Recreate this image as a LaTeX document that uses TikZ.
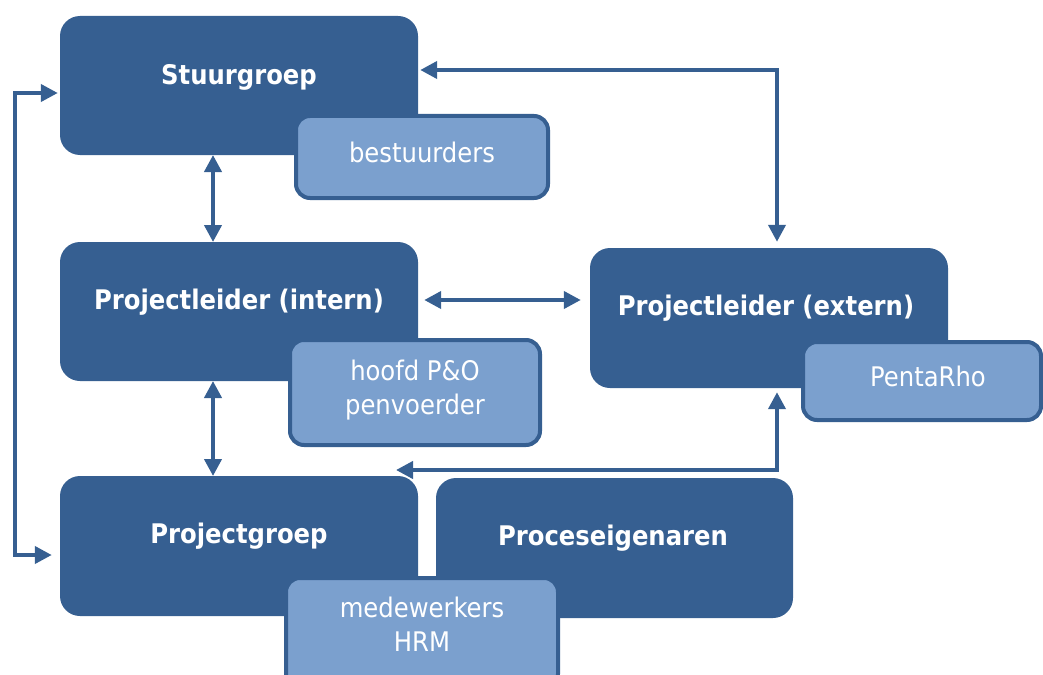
\documentclass[tikz,border=0pt]{standalone}
\usepackage{fontspec}
\setmainfont{DejaVu Sans Condensed}
\usetikzlibrary{arrows.meta}
\definecolor{dk}{HTML}{365F91}
\definecolor{lt}{HTML}{7BA0CE}
\begin{document}
\begin{tikzpicture}[x=1pt,y=-1pt,
 bigbox/.style={fill=dk, draw=none, rounded corners=20pt, minimum width=358pt, minimum height=139pt, inner sep=0pt},
 subbox/.style={fill=lt, draw=dk, line width=4pt, rounded corners=14pt, inner sep=0pt},
 bigtxt/.style={text=white, font=\fontsize{27}{32}\selectfont\bfseries},
 subtxt/.style={text=white, font=\fontsize{27}{34}\selectfont, align=center},
 conn/.style={draw=dk, line width=4pt, {Triangle[length=17pt,width=17pt]}-{Triangle[length=17pt,width=17pt]}}
]
\useasboundingbox (0,0) rectangle (1043,674);
\clip (0,0) rectangle (1043,674);

% Stuurgroep
\node[bigbox] (sg) at (239,85.5) {};
\node[bigtxt] (sgt) at (239,77) {Stuurgroep};
\node[subbox, minimum width=252pt, minimum height=82pt] (best) at (422,157) {};
\node[subtxt] (bestt) at (422,152) {bestuurders};

% Projectleider intern
\node[bigbox] (pli) at (239,311.5) {};
\node[bigtxt] (plit) at (239,302) {Projectleider (intern)};
\node[subbox, minimum width=250pt, minimum height=105pt] (hpo) at (415,392.5) {};
\node[subtxt] (hpot) at (415,390) {hoofd P\&O\\penvoerder};

% Projectleider extern
\node[bigbox, minimum height=140pt] (ple) at (769,318) {};
\node[bigtxt] (plet) at (766,308) {Projectleider (extern)};
\node[subbox, minimum width=238pt, minimum height=78pt] (penta) at (922,381) {};
\node[subtxt] (pentat) at (928,376) {PentaRho};

% Projectgroep and Proceseigenaren
\node[bigbox, minimum height=140pt] (pg) at (239,546) {};
\node[bigtxt] (pgt) at (239,536) {Projectgroep};
\node[bigbox, minimum width=357pt, minimum height=140pt] (pe) at (614.5,548) {};
\node[bigtxt] (pet) at (613,538) {Proceseigenaren};
\node[subbox, minimum width=272pt, minimum height=110pt] (mw) at (422,633) {};
\node[subtxt] (mwt) at (422,624) {medewerkers\\HRM};

% connectors
\coordinate (pgin) at (396,470);
\draw[conn] ([xshift=-2pt]sg.west |- 0,93) -- (15,93) -- (15,555) -- ([xshift=-8pt]pg.west |- 0,555);
\draw[conn] (213,155) -- (213,242);
\draw[conn] (213,381) -- (213,476);
\draw[conn] ([xshift=6pt]pli.east |- 0,300) -- ([xshift=-9pt]ple.west |- 0,300);
\draw[conn] ([xshift=2pt]sg.east |- 0,70) -| ([yshift=6pt]ple.north -| 777,0);
\draw[conn] ([yshift=-4pt]ple.south -| 777,0) |- (pgin);
\end{tikzpicture}
\end{document}
